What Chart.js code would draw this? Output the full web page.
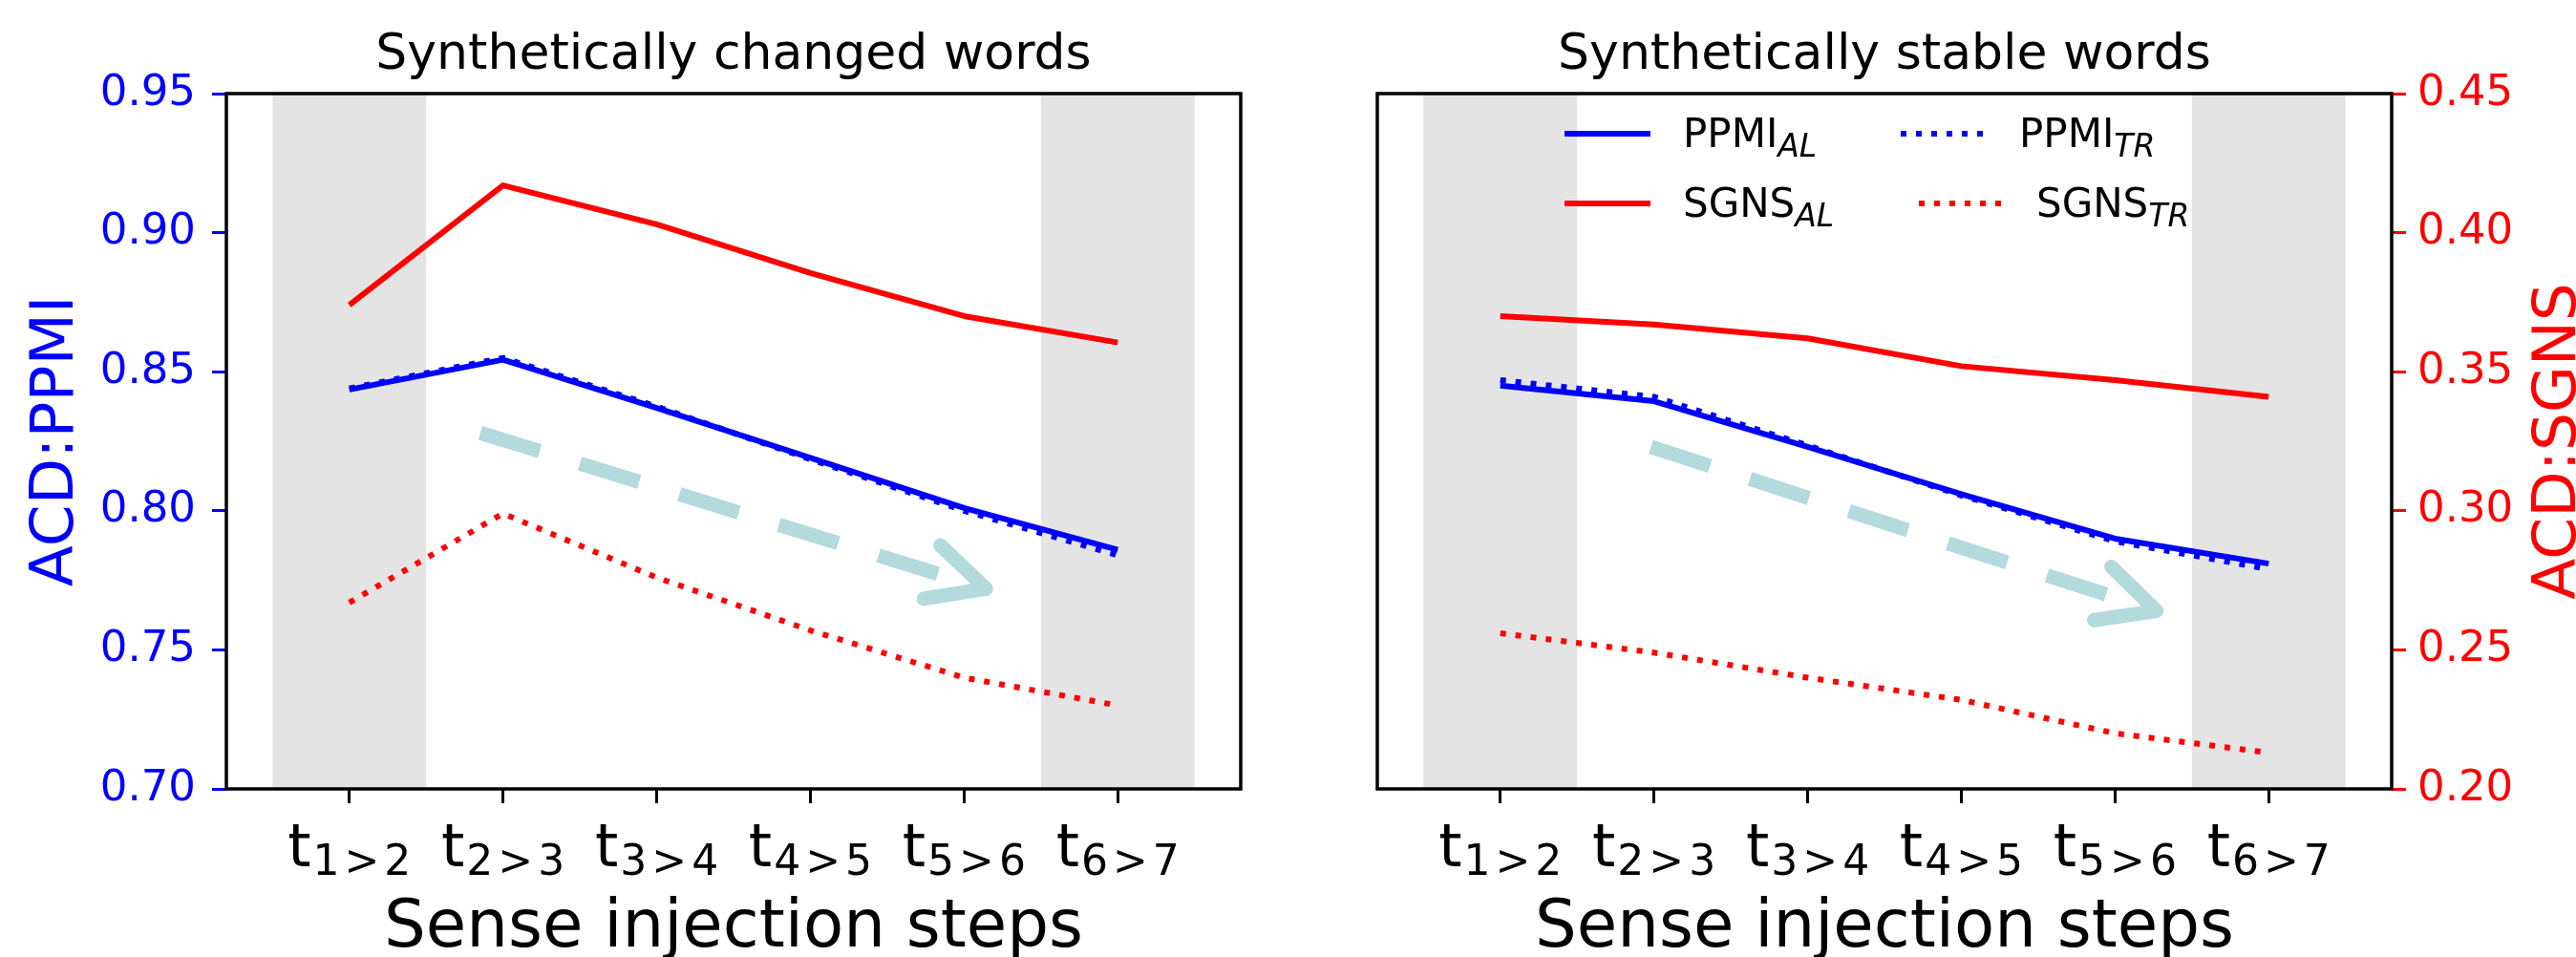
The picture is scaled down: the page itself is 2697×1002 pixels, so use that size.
<!DOCTYPE html>
<html>
<head>
<meta charset="utf-8">
<script src="https://cdn.jsdelivr.net/npm/chart.js@4.4.0/dist/chart.umd.min.js"></script>
<style>
    html, body { margin: 0; padding: 0; background: #fff; }
    body { width: 2697px; height: 1002px; position: relative; overflow: hidden; }
    canvas { position: absolute; top: 0; }
</style>
</head>
<body>
<canvas id="changedChart" style="left:0px" width="1340" height="1002"></canvas>
<canvas id="stableChart" style="left:1340px" width="1357" height="1002"></canvas>
<script>
var stepLabels = ["1>2", "2>3", "3>4", "4>5", "5>6", "6>7"];
var ppmiTicks = [0.70, 0.75, 0.80, 0.85, 0.90, 0.95];
var sgnsTicks = [0.20, 0.25, 0.30, 0.35, 0.40, 0.45];

// synthetically changed words
var changedPpmiAL = [0.8436, 0.8543, 0.837, 0.819, 0.801, 0.786];
var changedPpmiTR = [0.844, 0.855, 0.8375, 0.8185, 0.800, 0.784];
var changedSgnsAL = [0.374, 0.417, 0.403, 0.3855, 0.370, 0.3605];
var changedSgnsTR = [0.267, 0.299, 0.276, 0.257, 0.240, 0.230];

// synthetically stable words
var stablePpmiAL = [0.845, 0.8394, 0.823, 0.806, 0.790, 0.781];
var stablePpmiTR = [0.847, 0.841, 0.8235, 0.8055, 0.789, 0.779];
var stableSgnsAL = [0.370, 0.367, 0.362, 0.352, 0.347, 0.341];
var stableSgnsTR = [0.256, 0.249, 0.240, 0.232, 0.220, 0.213];

// trend arrows, in data units (step index, PPMI value)
var changedArrow = { from: [0.853, 0.828], to: [4.143, 0.772] };
var stableArrow = { from: [0.98, 0.823], to: [4.27, 0.764] };

var FONT = "'DejaVu Sans', sans-serif";
var BLUE = "#0000ff";
var RED = "#ff0000";

Chart.defaults.font.family = FONT;

function series(label, values, color, dotted, axis) {
    return {
        label: label,
        data: values.map(function (v, i) { return { x: i, y: v }; }),
        yAxisID: axis,
        borderColor: color,
        borderWidth: 6,
        borderDash: dotted ? [6, 10] : [],
        borderCapStyle: "butt",
        borderJoinStyle: "round",
        pointRadius: 0,
        fill: false,
        tension: 0
    };
}

function drawSubText(ctx, x, y, base, sub, size, subSize) {
    ctx.font = size + "px " + FONT;
    ctx.fillText(base, x, y);
    var w = ctx.measureText(base).width;
    ctx.font = "italic " + subSize + "px " + FONT;
    ctx.fillText(sub, x + w, y + 10);
}

var panelDecor = {
    id: "panelDecor",
    beforeDatasetsDraw: function (chart, args, opts) {
        var ctx = chart.ctx, area = chart.chartArea;
        var xs = chart.scales.x, ys = chart.scales.y;
        ctx.save();
        ctx.fillStyle = "#e4e4e4";
        [0, stepLabels.length - 1].forEach(function (b) {
            var x0 = xs.getPixelForValue(b - 0.5), x1 = xs.getPixelForValue(b + 0.5);
            ctx.fillRect(x0, area.top, x1 - x0, area.bottom - area.top);
        });

        var a = opts.arrow;
        var p0 = { x: xs.getPixelForValue(a.from[0]), y: ys.getPixelForValue(a.from[1]) };
        var p1 = { x: xs.getPixelForValue(a.to[0]), y: ys.getPixelForValue(a.to[1]) };
        ctx.strokeStyle = "#b3dadd";
        ctx.lineWidth = 15;
        ctx.setLineDash([65, 44]);
        ctx.lineCap = "butt";
        ctx.beginPath();
        ctx.moveTo(p0.x, p0.y);
        ctx.lineTo(p1.x, p1.y);
        ctx.stroke();
        ctx.setLineDash([]);
        ctx.lineCap = "round";
        ctx.lineJoin = "round";
        var ang = Math.atan2(p1.y - p0.y, p1.x - p0.x);
        var L = 66, spread = 0.46;
        ctx.beginPath();
        ctx.moveTo(p1.x - L * Math.cos(ang - spread), p1.y - L * Math.sin(ang - spread));
        ctx.lineTo(p1.x, p1.y);
        ctx.lineTo(p1.x - L * Math.cos(ang + spread), p1.y - L * Math.sin(ang + spread));
        ctx.stroke();
        ctx.restore();
    },
    afterDraw: function (chart, args, opts) {
        var ctx = chart.ctx, area = chart.chartArea, xs = chart.scales.x;
        ctx.save();

        // frame
        ctx.strokeStyle = "#000";
        ctx.lineWidth = 3.5;
        ctx.strokeRect(area.left, area.top, area.right - area.left, area.bottom - area.top);

        // panel title
        ctx.fillStyle = "#000";
        ctx.textAlign = "center";
        ctx.textBaseline = "alphabetic";
        ctx.font = "52px " + FONT;
        ctx.fillText(opts.title, (area.left + area.right) / 2, area.top - 26);

        // x tick labels t_{a>b}
        ctx.textAlign = "left";
        stepLabels.forEach(function (lab, i) {
            var parts = lab.split(">");
            var cx = xs.getPixelForValue(i);
            ctx.font = "62px " + FONT;
            var wt = ctx.measureText("t").width;
            ctx.font = "44px " + FONT;
            var w1 = ctx.measureText(parts[0]).width;
            var wg = ctx.measureText(">").width;
            var w2 = ctx.measureText(parts[1]).width;
            var gap = 5;
            var total = wt + 2 + w1 + gap + wg + gap + w2;
            var x = cx - total / 2;
            ctx.font = "62px " + FONT;
            ctx.fillText("t", x, area.bottom + 81);
            x += wt + 2;
            ctx.font = "44px " + FONT;
            ctx.fillText(parts[0], x, area.bottom + 90);
            x += w1 + gap;
            ctx.fillText(">", x, area.bottom + 90);
            x += wg + gap;
            ctx.fillText(parts[1], x, area.bottom + 90);
        });

        // right axis title, reading upwards
        if (opts.rightTitle) {
            ctx.save();
            ctx.translate(chart.width - 1, (area.top + area.bottom) / 2);
            ctx.rotate(-Math.PI / 2);
            ctx.textAlign = "center";
            ctx.fillStyle = RED;
            ctx.font = "63px " + FONT;
            ctx.fillText(opts.rightTitle, 0, 0);
            ctx.restore();
        }

        // legend
        if (opts.legend) {
            var ds = chart.data.datasets;
            opts.legend.forEach(function (item) {
                var d = ds.filter(function (s) { return s.label === item.label; })[0];
                var ly = area.top + item.row;
                ctx.strokeStyle = d.borderColor;
                ctx.lineWidth = 6;
                ctx.lineCap = "butt";
                ctx.setLineDash(d.borderDash);
                ctx.beginPath();
                ctx.moveTo(area.left + item.line, ly);
                ctx.lineTo(area.left + item.line + 90, ly);
                ctx.stroke();
                ctx.setLineDash([]);
                ctx.fillStyle = "#000";
                ctx.textAlign = "left";
                var parts = item.label.split("_");
                drawSubText(ctx, area.left + item.text, ly + 14, parts[0], parts[1], 42, 33);
            });
        }
        ctx.restore();
    }
};

function yScale(ticks, color, position, show, fitWidth, pad) {
    return {
        type: "linear",
        position: position,
        display: show,
        min: ticks[0],
        max: ticks[ticks.length - 1],
        afterBuildTicks: function (s) {
            s.ticks = ticks.map(function (v) { return { value: v }; });
        },
        afterFit: function (s) { if (fitWidth) s.width = fitWidth; },
        ticks: {
            color: color,
            font: { size: 45 },
            padding: pad,
            autoSkip: false,
            callback: function (v) { return v.toFixed(2); }
        },
        grid: { drawOnChartArea: false, drawTicks: true, tickLength: 15, tickWidth: 3, tickColor: color },
        border: { display: false }
    };
}

function xScale() {
    return {
        type: "linear",
        min: -0.8,
        max: 5.8,
        afterBuildTicks: function (s) {
            s.ticks = stepLabels.map(function (l, i) { return { value: i }; });
        },
        afterFit: function (s) { s.height = 1002 - 826; },
        ticks: { display: false },
        grid: { drawOnChartArea: false, drawTicks: true, tickLength: 15, tickWidth: 3, tickColor: "#000" },
        border: { display: false },
        title: {
            display: true,
            text: "Sense injection steps",
            color: "#000",
            font: { size: 69 },
            padding: { top: 0, bottom: -12 }
        }
    };
}

var changedY = yScale(ppmiTicks, BLUE, "left", true, 237, 17);
changedY.title = { display: true, text: "ACD:PPMI", color: BLUE, font: { size: 63 }, padding: { top: 22, bottom: 0 } };

var changedChart = new Chart(document.getElementById("changedChart"), {
    type: "line",
    data: {
        datasets: [
            series("PPMI_TR", changedPpmiTR, BLUE, true, "y"),
            series("PPMI_AL", changedPpmiAL, BLUE, false, "y"),
            series("SGNS_AL", changedSgnsAL, RED, false, "y2"),
            series("SGNS_TR", changedSgnsTR, RED, true, "y2")
        ]
    },
    options: {
        responsive: false,
        animation: false,
        devicePixelRatio: 1,
        layout: { padding: { left: 0, top: 98, right: 41, bottom: 0 } },
        scales: {
            x: xScale(),
            y: changedY,
            y2: yScale(sgnsTicks, RED, "right", false, 0, 17)
        },
        plugins: {
            legend: { display: false },
            tooltip: { enabled: false },
            panelDecor: { title: "Synthetically changed words", arrow: changedArrow }
        }
    },
    plugins: [panelDecor]
});

var stableChart = new Chart(document.getElementById("stableChart"), {
    type: "line",
    data: {
        datasets: [
            series("PPMI_TR", stablePpmiTR, BLUE, true, "y"),
            series("PPMI_AL", stablePpmiAL, BLUE, false, "y"),
            series("SGNS_AL", stableSgnsAL, RED, false, "y2"),
            series("SGNS_TR", stableSgnsTR, RED, true, "y2")
        ]
    },
    options: {
        responsive: false,
        animation: false,
        devicePixelRatio: 1,
        layout: { padding: { left: 102, top: 98, right: 0, bottom: 0 } },
        scales: {
            x: xScale(),
            y: yScale(ppmiTicks, BLUE, "left", false, 0, 17),
            y2: yScale(sgnsTicks, RED, "right", true, 2697 - 2504, 12)
        },
        plugins: {
            legend: { display: false },
            tooltip: { enabled: false },
            panelDecor: {
                title: "Synthetically stable words",
                arrow: stableArrow,
                rightTitle: "ACD:SGNS",
                legend: [
                    { label: "PPMI_AL", row: 42, line: 196, text: 320 },
                    { label: "PPMI_TR", row: 42, line: 548, text: 672 },
                    { label: "SGNS_AL", row: 115, line: 196, text: 320 },
                    { label: "SGNS_TR", row: 115, line: 567, text: 690 }
                ]
            }
        }
    },
    plugins: [panelDecor]
});
</script>
</body>
</html>
